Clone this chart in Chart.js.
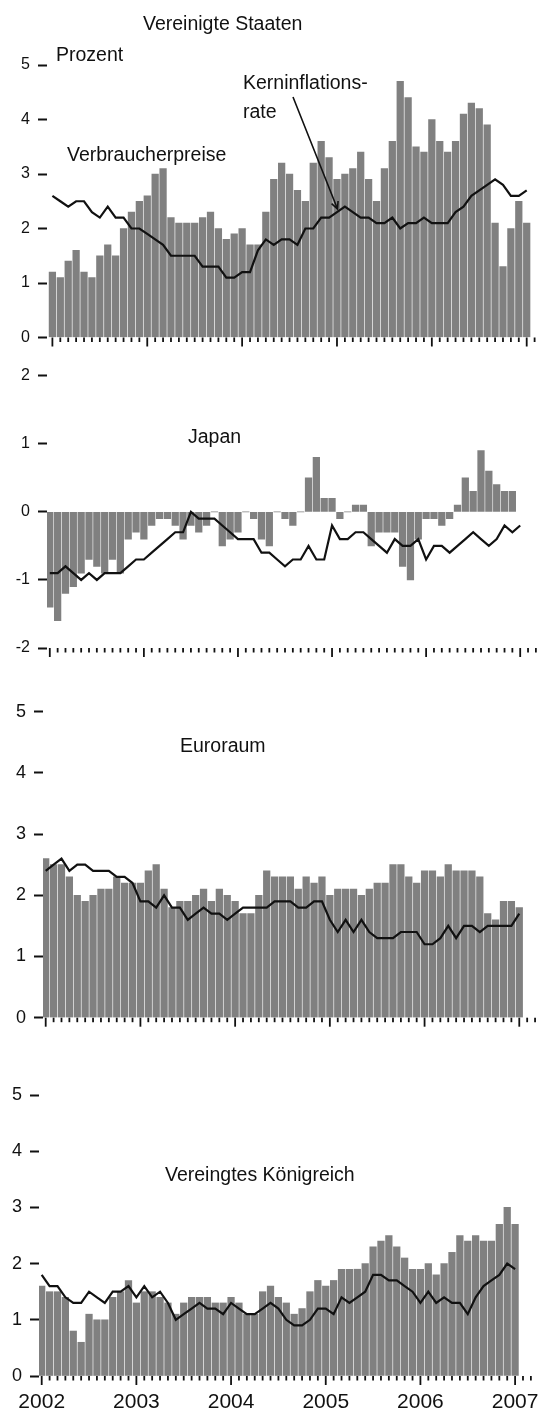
<!DOCTYPE html>
<html>
<head>
<meta charset="utf-8">
<script src="https://cdn.jsdelivr.net/npm/chart.js@4.4.1/dist/chart.umd.min.js"></script>
<style>
  html, body { margin: 0; padding: 0; background: #fff; }
  #page { position: relative; width: 539px; height: 1411px; overflow: hidden; }
  #page canvas { position: absolute; left: 0; top: 0; }
</style>
</head>
<body>
<div id="page">
  <canvas id="us" width="539" height="1411"></canvas>
  <canvas id="jp" width="539" height="1411"></canvas>
  <canvas id="eu" width="539" height="1411"></canvas>
  <canvas id="uk" width="539" height="1411"></canvas>
</div>
<script>
// monthly, Jan 2002 .. Jan 2007 (index 0 = Jan 2002)
const years = ['2002', '2003', '2004', '2005', '2006', '2007'];
const tickMonths = 63; // tick marks run on to Mar 2007

const usCpi = [1.2, 1.1, 1.4, 1.6, 1.2, 1.1, 1.5, 1.7, 1.5, 2.0, 2.3, 2.5,
  2.6, 3.0, 3.1, 2.2, 2.1, 2.1, 2.1, 2.2, 2.3, 2.0, 1.8, 1.9,
  2.0, 1.7, 1.7, 2.3, 2.9, 3.2, 3.0, 2.7, 2.5, 3.2, 3.6, 3.3,
  2.9, 3.0, 3.1, 3.4, 2.9, 2.5, 3.1, 3.6, 4.7, 4.4, 3.5, 3.4,
  4.0, 3.6, 3.4, 3.6, 4.1, 4.3, 4.2, 3.9, 2.1, 1.3, 2.0, 2.5,
  2.1];
const usCore = [2.6, 2.5, 2.4, 2.5, 2.5, 2.3, 2.2, 2.4, 2.2, 2.2, 2.0, 2.0,
  1.9, 1.8, 1.7, 1.5, 1.5, 1.5, 1.5, 1.3, 1.3, 1.3, 1.1, 1.1,
  1.2, 1.2, 1.6, 1.8, 1.7, 1.8, 1.8, 1.7, 2.0, 2.0, 2.2, 2.2,
  2.3, 2.4, 2.3, 2.2, 2.2, 2.1, 2.1, 2.2, 2.0, 2.1, 2.1, 2.2,
  2.1, 2.1, 2.1, 2.3, 2.4, 2.6, 2.7, 2.8, 2.9, 2.8, 2.6, 2.6,
  2.7];

const jpCpi = [-1.4, -1.6, -1.2, -1.1, -0.9, -0.7, -0.8, -0.9, -0.7, -0.9, -0.4, -0.3,
  -0.4, -0.2, -0.1, -0.1, -0.2, -0.4, -0.2, -0.3, -0.2, 0.0, -0.5, -0.4,
  -0.3, 0.0, -0.1, -0.4, -0.5, 0.0, -0.1, -0.2, 0.0, 0.5, 0.8, 0.2,
  0.2, -0.1, 0.0, 0.1, 0.1, -0.5, -0.3, -0.3, -0.3, -0.8, -1.0, -0.4,
  -0.1, -0.1, -0.2, -0.1, 0.1, 0.5, 0.3, 0.9, 0.6, 0.4, 0.3, 0.3,
  null];
const jpCore = [-0.9, -0.9, -0.8, -0.9, -1.0, -0.9, -1.0, -0.9, -0.9, -0.9, -0.8, -0.7,
  -0.7, -0.6, -0.5, -0.4, -0.3, -0.3, 0.0, -0.1, -0.1, -0.1, -0.2, -0.3,
  -0.4, -0.4, -0.4, -0.6, -0.6, -0.7, -0.8, -0.7, -0.7, -0.5, -0.7, -0.7,
  -0.2, -0.4, -0.4, -0.3, -0.3, -0.4, -0.5, -0.6, -0.4, -0.5, -0.5, -0.4,
  -0.7, -0.5, -0.5, -0.6, -0.5, -0.4, -0.3, -0.4, -0.5, -0.4, -0.2, -0.3,
  -0.2];

const euCpi = [2.6, 2.5, 2.5, 2.3, 2.0, 1.9, 2.0, 2.1, 2.1, 2.3, 2.2, 2.2,
  2.2, 2.4, 2.5, 2.1, 1.8, 1.9, 1.9, 2.0, 2.1, 1.9, 2.1, 2.0,
  1.9, 1.7, 1.7, 2.0, 2.4, 2.3, 2.3, 2.3, 2.1, 2.3, 2.2, 2.3,
  2.0, 2.1, 2.1, 2.1, 2.0, 2.1, 2.2, 2.2, 2.5, 2.5, 2.3, 2.2,
  2.4, 2.4, 2.3, 2.5, 2.4, 2.4, 2.4, 2.3, 1.7, 1.6, 1.9, 1.9,
  1.8];
const euCore = [2.4, 2.5, 2.6, 2.4, 2.5, 2.5, 2.4, 2.4, 2.4, 2.3, 2.3, 2.2,
  1.9, 1.9, 1.8, 2.0, 1.8, 1.8, 1.6, 1.7, 1.8, 1.7, 1.7, 1.6,
  1.7, 1.8, 1.8, 1.8, 1.8, 1.9, 1.9, 1.9, 1.8, 1.8, 1.9, 1.9,
  1.6, 1.4, 1.6, 1.4, 1.6, 1.4, 1.3, 1.3, 1.3, 1.4, 1.4, 1.4,
  1.2, 1.2, 1.3, 1.5, 1.3, 1.5, 1.5, 1.4, 1.5, 1.5, 1.5, 1.5,
  1.7];

const ukCpi = [1.6, 1.5, 1.5, 1.4, 0.8, 0.6, 1.1, 1.0, 1.0, 1.4, 1.5, 1.7,
  1.3, 1.5, 1.5, 1.4, 1.3, 1.1, 1.3, 1.4, 1.4, 1.4, 1.3, 1.3,
  1.4, 1.3, 1.1, 1.1, 1.5, 1.6, 1.4, 1.3, 1.1, 1.2, 1.5, 1.7,
  1.6, 1.7, 1.9, 1.9, 1.9, 2.0, 2.3, 2.4, 2.5, 2.3, 2.1, 1.9,
  1.9, 2.0, 1.8, 2.0, 2.2, 2.5, 2.4, 2.5, 2.4, 2.4, 2.7, 3.0,
  2.7];
const ukCore = [1.8, 1.6, 1.6, 1.4, 1.3, 1.3, 1.5, 1.4, 1.3, 1.5, 1.5, 1.6,
  1.4, 1.6, 1.4, 1.5, 1.3, 1.0, 1.1, 1.2, 1.3, 1.2, 1.2, 1.1,
  1.3, 1.2, 1.1, 1.1, 1.2, 1.3, 1.2, 1.0, 0.9, 0.9, 1.0, 1.2,
  1.2, 1.1, 1.4, 1.3, 1.4, 1.5, 1.8, 1.8, 1.7, 1.7, 1.6, 1.5,
  1.3, 1.5, 1.3, 1.4, 1.3, 1.3, 1.1, 1.4, 1.6, 1.7, 1.8, 2.0,
  1.9];

const FONT = '"Liberation Sans", Arial, Helvetica, sans-serif';
const INK = '#111';
const BAR = '#808080';
const PAGE_W = 539, PAGE_H = 1411;

function points(arr) {
  return arr.map((v, i) => ({ x: i, y: v }));
}

// tick marks under the plot, texts, arrow, year labels
function panelPlugin(p) {
  return {
    id: 'panel',
    afterDraw(chart) {
      const ctx = chart.ctx;
      const xs = chart.scales.x;
      const bottom = chart.chartArea.bottom;
      ctx.save();
      ctx.strokeStyle = INK;
      ctx.lineWidth = 1.8;
      for (let i = 0; i < tickMonths; i++) {
        const px = xs.getPixelForValue(i);
        const len = i % 12 === 0 ? 9 : 4.5;
        ctx.beginPath();
        ctx.moveTo(px, bottom);
        ctx.lineTo(px, bottom + len);
        ctx.stroke();
      }
      ctx.fillStyle = INK;
      ctx.textBaseline = 'alphabetic';
      ctx.font = '19.5px ' + FONT;
      ctx.textAlign = 'left';
      (p.texts || []).forEach(t => ctx.fillText(t.text, t.x, t.y));

      if (p.arrow) {
        const [x1, y1, x2, y2] = p.arrow;
        ctx.lineWidth = 1.6;
        ctx.beginPath();
        ctx.moveTo(x1, y1);
        ctx.lineTo(x2, y2);
        const a = Math.atan2(y2 - y1, x2 - x1);
        const h = 8;
        ctx.moveTo(x2 - h * Math.cos(a - 0.45), y2 - h * Math.sin(a - 0.45));
        ctx.lineTo(x2, y2);
        ctx.lineTo(x2 - h * Math.cos(a + 0.45), y2 - h * Math.sin(a + 0.45));
        ctx.stroke();
      }

      if (p.yearsY) {
        ctx.font = '21px ' + FONT;
        ctx.textAlign = 'center';
        years.forEach((y, k) => ctx.fillText(y, xs.getPixelForValue(k * 12), p.yearsY));
      }
      ctx.restore();
    }
  };
}

function makePanel(id, p) {
  const xMin = -(p.firstX - p.left) / p.step;
  const xMax = xMin + (PAGE_W - p.left) / p.step;
  return new Chart(document.getElementById(id), {
    type: 'bar',
    data: {
      datasets: [
        {
          type: 'line',
          data: points(p.core),
          borderColor: INK,
          borderWidth: 2.2,
          pointRadius: 0,
          tension: 0,
          order: 0
        },
        {
          data: points(p.cpi),
          backgroundColor: BAR,
          borderWidth: 0,
          barThickness: 6.6,
          order: 1
        }
      ]
    },
    options: {
      responsive: false,
      animation: false,
      layout: { padding: { top: p.top, bottom: PAGE_H - p.bottom, left: 0, right: 0 } },
      plugins: { legend: { display: false }, tooltip: { enabled: false } },
      scales: {
        x: {
          type: 'linear',
          display: false,
          offset: false,
          min: xMin,
          max: xMax,
          ticks: { stepSize: 1 }
        },
        y: {
          min: p.yMin,
          max: p.yMax,
          afterFit: s => { s.width = p.left; },
          border: { display: false },
          grid: {
            drawOnChartArea: false,
            drawTicks: true,
            tickLength: 9,
            tickWidth: 2,
            tickColor: INK
          },
          ticks: {
            stepSize: 1,
            padding: 8,
            color: INK,
            font: { family: FONT, size: p.tickSize },
            callback: v => String(v)
          }
        }
      }
    },
    plugins: [panelPlugin(p)]
  });
}

makePanel('us', {
  cpi: usCpi, core: usCore, yMin: 0, yMax: 5,
  left: 47, firstX: 52.4, step: 7.905, top: 65, bottom: 337.5, tickSize: 16,
  texts: [
    { text: 'Vereinigte Staaten', x: 143, y: 30 },
    { text: 'Prozent', x: 56, y: 60.5 },
    { text: 'Kerninflations-', x: 243, y: 88.5 },
    { text: 'rate', x: 243, y: 118 },
    { text: 'Verbraucherpreise', x: 67, y: 160.5 }
  ],
  arrow: [293, 97, 337.5, 209]
});

makePanel('jp', {
  cpi: jpCpi, core: jpCore, yMin: -2, yMax: 2,
  left: 47, firstX: 49.8, step: 7.84, top: 375.7, bottom: 648, tickSize: 16,
  texts: [{ text: 'Japan', x: 188, y: 443 }]
});

makePanel('eu', {
  cpi: euCpi, core: euCore, yMin: 0, yMax: 5,
  left: 43, firstX: 45.7, step: 7.893, top: 711.7, bottom: 1017.7, tickSize: 18,
  texts: [{ text: 'Euroraum', x: 180, y: 751.5 }]
});

makePanel('uk', {
  cpi: ukCpi, core: ukCore, yMin: 0, yMax: 5,
  left: 39, firstX: 41.7, step: 7.89, top: 1095, bottom: 1376, tickSize: 18,
  texts: [{ text: 'Vereingtes Königreich', x: 165, y: 1181 }],
  yearsY: 1408
});
</script>
</body>
</html>
